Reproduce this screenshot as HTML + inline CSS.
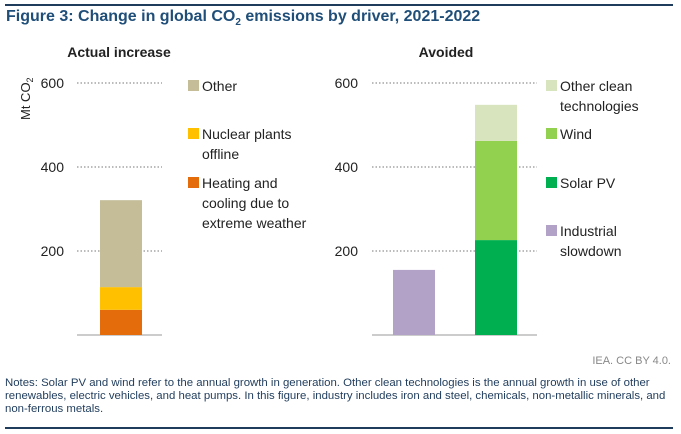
<!DOCTYPE html>
<html><head><meta charset="utf-8"><style>
body{margin:0;width:681px;height:434px;background:#fff;overflow:hidden;font-family:"Liberation Sans",sans-serif;position:relative}
.t{position:absolute;white-space:nowrap}
</style></head><body>
<div style="position:absolute;left:5px;top:4px;width:668px;height:2px;background:#1f3c5c"></div>
<div class="t" style="left:6px;top:8px;font-size:16px;font-weight:bold;color:#1f4e79">Figure 3: Change in global CO<sub style="font-size:10px">2</sub> emissions by driver, 2021-2022</div>
<svg id="c" width="681" height="434" style="position:absolute;left:0;top:0;font-family:'Liberation Sans',sans-serif"></svg>
<div class="t" style="right:10px;top:355px;font-size:11px;color:#888">IEA. CC BY 4.0.</div>
<div class="t" style="left:5px;top:377px;font-size:11.4px;line-height:12.8px;color:#1f3c5c;white-space:normal;width:662px">Notes: Solar PV and wind refer to the annual growth in generation. Other clean technologies is the annual growth in use of other renewables, electric vehicles, and heat pumps. In this figure, industry includes iron and steel, chemicals, non-metallic minerals, and non-ferrous metals.</div>
<div style="position:absolute;left:5px;top:427px;width:668px;height:2px;background:#1f3c5c"></div>
<script>
const ticks=[200,400,600];
const leftSeries=["Heating and cooling due to extreme weather","Nuclear plants offline","Other"];
const leftValues=[60,54,207];
const leftColors=["#e46c0a","#ffc000","#c4bd97"];
const indValues=[155];
const rightSeries=["Solar PV","Wind","Other clean technologies"];
const rightValues=[226,236,86];
const rightColors=["#00b050","#92d050","#d7e4bd"];
const svg=document.getElementById('c');
const NS='http://www.w3.org/2000/svg';
const y0=335,k=0.42;
const y=v=>y0-v*k;
function mk(t,a){const e=document.createElementNS(NS,t);for(const n in a)e.setAttribute(n,a[n]);svg.appendChild(e);return e;}
function panel(x1,x2,labX,title,titleX,name){
  ticks.forEach(v=>{
    const l=mk('line',{x1:x1,x2:x2,y1:y(v),y2:y(v),stroke:'#777','stroke-dasharray':'1.5,2','stroke-width':1});
    
    
    const t=mk('text',{x:labX,y:y(v)+5,'font-size':14,fill:'#222','text-anchor':'end'});t.textContent=v;
    
    
  });
  const a=mk('line',{x1:x1,x2:x2,y1:y0,y2:y0,stroke:'#999','stroke-width':1});
  
  
  const t=mk('text',{x:titleX,y:57,'font-size':14,'font-weight':'bold',fill:'#222','text-anchor':'middle'});t.textContent=title;
  
  
}
function stack(x,w,vals,cols,name){
  let acc=0;vals.forEach((v,i)=>{
    const r=mk('rect',{x:x,width:w,y:y(acc+v),height:v*k,fill:cols[i]});
    
    
    acc+=v;});
}
function legend(x,items,cols,ys,name){
  items.forEach((lines,i)=>{
    const r=mk('rect',{x:x,y:ys[i]-9,width:11,height:11,fill:cols[i]});
    
    
    lines.forEach((s,j)=>{const t=mk('text',{x:x+14,y:ys[i]+2+j*20,'font-size':14,fill:'#222'});t.textContent=s;
      
      });
  });
}
panel(77,162,64,'Actual increase',119,'left');
panel(372,537,358,'Avoided',446,'right');
stack(100,42,leftValues,leftColors,'left-bar');
stack(393,42,indValues,['#b3a2c7'],'industrial-bar');
stack(475,42,rightValues,rightColors,'clean-bar');
legend(188,[["Other"],["Nuclear plants","offline"],["Heating and","cooling due to","extreme weather"]],["#c4bd97","#ffc000","#e46c0a"],[89,137,186],'left');
legend(546,[["Other clean","technologies"],["Wind"],["Solar PV"],["Industrial","slowdown"]],["#d7e4bd","#92d050","#00b050","#b3a2c7"],[89,137,186,234],'right');
const yl=mk('text',{x:0,y:0,'font-size':13,fill:'#222',transform:'translate(30,120) rotate(-90)'});
yl.innerHTML='Mt CO<tspan font-size="9" dy="3">2</tspan>';


</script>
</body></html>
